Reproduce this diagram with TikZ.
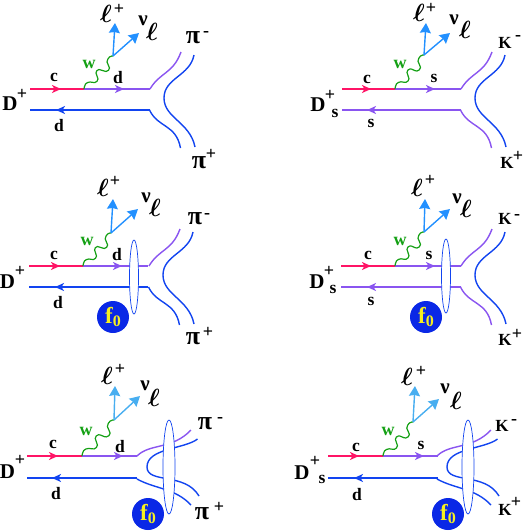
\documentclass[tikz,border=0pt]{standalone}
\usepackage{fontspec}
\setmainfont{Liberation Serif}[BoldFont={Liberation Serif Bold}]
\usetikzlibrary{arrows.meta,calc}
\definecolor{qred}{HTML}{FF1466}
\definecolor{qpur}{HTML}{8A55F0}
\definecolor{qblu}{HTML}{1244F0}
\definecolor{wgrn}{HTML}{14A014}
\definecolor{lepA}{HTML}{2290FF}
\definecolor{lepB}{HTML}{48AEF0}
\definecolor{fblu}{HTML}{0A28E6}
\definecolor{fyel}{HTML}{F6F020}
\newcommand\elltxt{$\ell$}
\tikzset{
 x=1pt,y=-1pt,
 lab/.style={inner sep=0pt,font=\bfseries\fontsize{17.5}{17}\selectfont,text=black},
 big/.style={inner sep=0pt,font=\bfseries\fontsize{21}{21}\selectfont,text=black},
 pion/.style={inner sep=0pt,font=\bfseries\fontsize{26}{26}\selectfont,text=black},
 ellb/.style={inner sep=0pt,font=\bfseries\fontsize{23}{23}\selectfont,text=black},
 sup/.style={inner sep=0pt,text height=9pt,text depth=0pt,font=\bfseries\fontsize{18}{18}\selectfont,text=black},
 mes/.style={inner sep=0pt,font=\bfseries\fontsize{17}{17}\selectfont,text=black},
 wlab/.style={inner sep=0pt,font=\bfseries\fontsize{18}{18}\selectfont,text=wgrn},
 qline/.style={line width=2.1pt},
 head/.style={-{Stealth[length=9pt,width=8pt,inset=2.5pt]},line width=1.6pt},
 curve/.style={line width=1.4pt},
 lep/.style={-{Stealth[length=10pt,width=11pt,inset=1pt]},line width=1.4pt},
 wboson/.style={wgrn,line width=1.2pt},
 blob/.style={draw=qblu,fill=white,line width=.7pt},
 fball/.style={circle,fill=fblu,minimum size=32pt,inner sep=0pt,text=fyel,font=\bfseries\fontsize{23}{23}\selectfont},
}
\newcommand\fz{f\raisebox{-3pt}{\fontsize{16}{16}\selectfont 0}}
\newcommand\lines[9]{%
 \coordinate (#1s) at (#2,#5);\coordinate (#1m) at (#3,#5);\coordinate (#1e) at (#4,#5);
 \coordinate (#1u) at (#4,#6);\coordinate (#1w) at (#2,#6);
 \draw[qline,qred] (#1s) -- (#1m);
 \draw[qline,qpur] (#1m) -- (#1e);
 \draw[qline,#7] (#1u) -- (#1w);
 \coordinate (#1h1) at (#8,#5);\coordinate (#1h2) at (#9,#5);
 \draw[head,qred] ($(#1h1)+(-9,0)$) -- (#1h1);
 \draw[head,qpur] ($(#1h2)+(-9,0)$) -- (#1h2);
}
\newcommand\backarrow[3]{\draw[head,#3] (#1+9,#2) -- (#1,#2);}
\newcommand\wiggle[4]{%
 \begin{scope}[shift={(#1,#2)},xscale=\fpeval{(#3-#1)/29},yscale=\fpeval{(#2-#4)/33}]
 \draw[wboson] plot[smooth,tension=.7] coordinates {(0,0) (1.5,-5) (6,-7) (11,-6.5) (14,-10) (12,-16) (15,-19.5) (22,-17.5) (25.5,-21) (23,-27) (25.5,-32) (29,-33)};
 \end{scope}}
\newcommand\leptons[8]{%
 \coordinate (#1v) at (#2,#3);\coordinate (#1t) at (#4,#5);\coordinate (#1n) at (#6,#7);
 \draw[lep,#8] (#1v) -- (#1t);
 \draw[lep,#8] (#1v) -- (#1n);}
\newcommand\ycurves[5]{%
 \begin{scope}[shift={(#1,#2)}]
 \draw[curve,#3] (150,89) .. controls (160,72) and (173,74) .. (181,52);
 \draw[curve,#4] (194,55) .. controls (190,76) and (164,78) .. (164,98) .. controls (164,118) and (190,122) .. (195,147);
 \draw[curve,#5] (149.5,110) .. controls (158,128) and (176,124) .. (180.5,148);
 \end{scope}}
\newcommand\xcurves[1]{%
 \begin{scope}[xshift=#1]
 \draw[curve,qpur] (137,456) .. controls (150,443) and (172,450) .. (191,430);
 \draw[curve,qblu] (197.5,439) .. controls (185,449) and (147,448) .. (147,467) .. controls (147,484) and (185,472) .. (199,496);
 \draw[curve,qblu] (137,479) .. controls (155,489) and (175,488) .. (191,505);
 \end{scope}}
\begin{document}
\boldmath
\begin{tikzpicture}
\useasboundingbox (0,0) rectangle (523,531);
% ---------- panel 1
\ycurves{0}{0}{qpur}{qblu}{qblu}
\lines{A}{30}{84}{150}{89}{110}{qblu}{61}{124}
\backarrow{56}{110}{qblu}
\wiggle{84}{89}{113}{56}
\leptons{A}{113}{56}{115}{23}{139}{33}{lepA}
\node[lab] (A1) at (54,77) {c};
\node[lab] (A2) at (118,78) {d};
\node[lab] (A3) at (59,126) {d};
\node[wlab] (A4) at (89,64) {w};
\node[ellb] (A5) at (106,14) {\elltxt};
\node[sup] (A6) at (119,10) {+};
\node[big] (A7) at (143,21) {ν};
\node[ellb] (A8) at (152,32) {\elltxt};
\node[pion] (A9) at (193,38) {π};
\node[sup] (A10) at (206,32) {-};
\node[pion] (A11) at (199,163) {π};
\node[sup] (A12) at (211,155) {+};
\node[big] (A13) at (10,104) {D};
\node[sup] (A14) at (22,95) {+};
% ---------- panel 2
\ycurves{311}{0}{qpur}{qblu}{qpur}
\lines{B}{342}{395}{461}{89}{110}{qpur}{371}{435}
\backarrow{367}{110}{qpur}
\wiggle{395}{89}{424}{55}
\leptons{B}{424}{55}{426}{23}{450}{33}{lepA}
\node[lab] (B1) at (367,79) {c};
\node[lab] (B2) at (434,78) {s};
\node[lab] (B3) at (371,123) {s};
\node[wlab] (B4) at (400,64) {w};
\node[ellb] (B5) at (419,13) {\elltxt};
\node[sup] (B6) at (431,9) {+};
\node[big] (B7) at (454,20) {ν};
\node[ellb] (B8) at (465,30) {\elltxt};
\node[mes] (B9) at (505,43) {K};
\node[sup] (B10) at (518,36) {-};
\node[mes] (B11) at (507,163) {K};
\node[sup] (B12) at (518,157) {+};
\node[big] (B13) at (318,105) {D};
\node[sup] (B14) at (330,96) {+};
\node[lab] (B15) at (335,113) {s};
% ---------- panel 3
\ycurves{-1}{177}{qpur}{qblu}{qblu}
\lines{C}{29}{83}{148}{266}{287}{qblu}{60}{122}
\backarrow{55}{287}{qblu}
\wiggle{83}{266}{111}{233}
\leptons{C}{111}{233}{113}{199}{138}{209}{lepA}
\filldraw[blob] (134,277) ellipse [x radius=4.5,y radius=37];
\node[fball] (Cf) at (113,317) {\fz};
\node[lab] (C1) at (54,255) {c};
\node[lab] (C2) at (117,255) {d};
\node[lab] (C3) at (58,303) {d};
\node[wlab] (C4) at (87,241) {w};
\node[ellb] (C5) at (103,188) {\elltxt};
\node[sup] (C6) at (115,182) {+};
\node[big] (C7) at (146,198) {ν};
\node[ellb] (C8) at (155,208) {\elltxt};
\node[pion] (C9) at (195,219) {π};
\node[sup] (C10) at (207,214) {-};
\node[pion] (C11) at (193,339) {π};
\node[sup] (C12) at (208,333) {+};
\node[big] (C13) at (7.5,282) {D};
\node[sup] (C14) at (20,272) {+};
% ---------- panel 4
\ycurves{311}{177}{qpur}{qblu}{qpur}
\lines{E}{341}{395}{461}{266}{287}{qpur}{371}{435}
\backarrow{367}{287}{qpur}
\wiggle{395}{266}{424}{232}
\leptons{E}{424}{232}{425}{199}{450}{209}{lepA}
\filldraw[blob] (446,276) ellipse [x radius=4.5,y radius=37];
\node[fball] (Ef) at (426,317) {\fz};
\node[lab] (E1) at (368,255) {c};
\node[lab] (E2) at (429,255) {s};
\node[lab] (E3) at (371,301) {s};
\node[wlab] (E4) at (400,241) {w};
\node[ellb] (E5) at (417,188) {\elltxt};
\node[sup] (E6) at (430,181) {+};
\node[big] (E7) at (457,199) {ν};
\node[ellb] (E8) at (466,209) {\elltxt};
\node[mes] (E9) at (505,219) {K};
\node[sup] (E10) at (517,215) {-};
\node[mes] (E11) at (505,340) {K};
\node[sup] (E12) at (517,335) {+};
\node[big] (E13) at (317,282) {D};
\node[sup] (E14) at (329,272) {+};
\node[lab] (E15) at (333,289) {s};
% ---------- panel 5
\xcurves{0}
\lines{G}{27}{82}{137}{456}{478}{qblu}{58}{123}
\backarrow{52}{478}{qblu}
\wiggle{82}{456}{114}{420}
\leptons{G}{114}{420}{115}{386}{140}{396}{lepB}
\filldraw[blob] (169,467) ellipse [x radius=6,y radius=47];
\node[fball] (Gf) at (148,514) {\fz};
\node[lab] (G1) at (53,444) {c};
\node[lab] (G2) at (120,447) {d};
\node[lab] (G3) at (56,494) {d};
\node[wlab] (G4) at (86,431) {w};
\node[ellb] (G5) at (107,376) {\elltxt};
\node[sup] (G6) at (120,370) {+};
\node[big] (G7) at (145,386) {ν};
\node[ellb] (G8) at (154,398) {\elltxt};
\node[pion] (G9) at (205,424) {π};
\node[sup] (G10) at (220,418) {-};
\node[pion] (G11) at (202,514) {π};
\node[sup] (G12) at (219,508) {+};
\node[big] (G13) at (7.5,472) {D};
\node[sup] (G14) at (20,461) {+};
% ---------- panel 6
\xcurves{300}
\lines{H}{328}{383}{438}{456}{478}{qblu}{359}{424}
\backarrow{354}{478}{qblu}
\wiggle{383}{456}{413}{422}
\leptons{H}{413}{422}{415}{386}{439}{399}{lepB}
\filldraw[blob] (468,467) ellipse [x radius=6,y radius=47];
\node[fball] (Hf) at (448,514) {\fz};
\node[lab] (H1) at (356,447) {c};
\node[lab] (H2) at (421,445) {s};
\node[lab] (H3) at (357,495) {d};
\node[wlab] (H4) at (388,431) {w};
\node[ellb] (H5) at (407,377) {\elltxt};
\node[sup] (H6) at (421,372) {+};
\node[big] (H7) at (445,389) {ν};
\node[ellb] (H8) at (456,401) {\elltxt};
\node[mes] (H9) at (502,426) {K};
\node[sup] (H10) at (514,420) {-};
\node[mes] (H11) at (505,510) {K};
\node[sup] (H12) at (516,503) {+};
\node[big] (H13) at (302,473) {D};
\node[sup] (H14) at (315,462) {+};
\node[lab] (H15) at (322,479) {s};
\end{tikzpicture}
\end{document}
